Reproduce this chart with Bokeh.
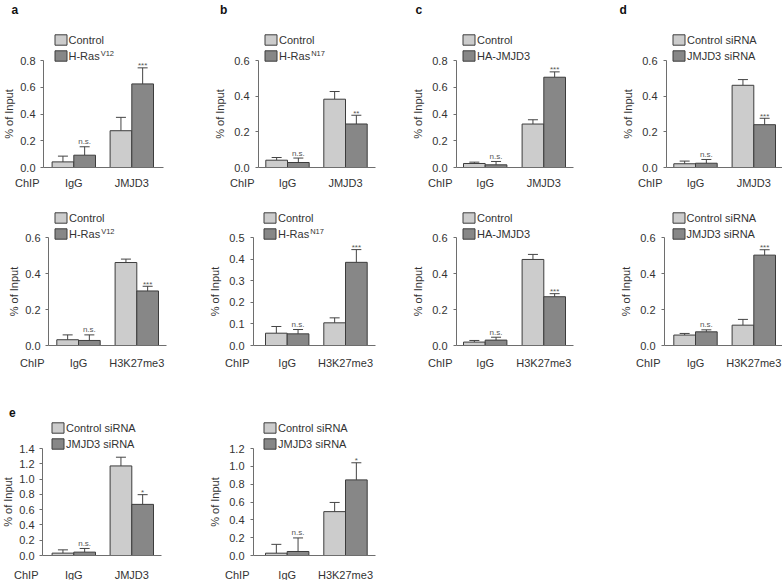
from bokeh.plotting import figure
from bokeh.layouts import column, row
from bokeh.models import (Range1d, FixedTicker, PrintfTickFormatter, Legend,
                          LegendItem, Label, ColumnDataSource)
from bokeh.embed import file_html
from bokeh.resources import INLINE
from bokeh.core.properties import value

FONT = "Liberation Sans"
TXT = "#333333"
AX = "#6e6e6e"
LIGHT = "#cccccc"
DARK = "#878787"
EDGE = "#3c3c3c"

# ---------------- data ----------------
cats_jmjd3 = ["IgG", "JMJD3"]
cats_h3k = ["IgG", "H3K27me3"]

series_ras = ["Control", "H-Ras"]
series_ha = ["Control", "HA-JMJD3"]
series_si = ["Control siRNA", "JMJD3 siRNA"]
sup_v12 = "V12"
sup_n17 = "N17"

# a (top): H-Ras V12, ChIP JMJD3
a1_ctrl = [0.042, 0.275]
a1_ctrl_err = [0.043, 0.100]
a1_trt = [0.092, 0.625]
a1_trt_err = [0.063, 0.120]
a1_sig = ["n.s.", "***"]
a1_yticks = [0.0, 0.2, 0.4, 0.6, 0.8]

# a (bottom): H-Ras V12, ChIP H3K27me3
a2_ctrl = [0.032, 0.461]
a2_ctrl_err = [0.027, 0.019]
a2_trt = [0.028, 0.303]
a2_trt_err = [0.031, 0.026]
a2_sig = ["n.s.", "***"]
a2_yticks = [0.0, 0.2, 0.4, 0.6]

# b (top): H-Ras N17, ChIP JMJD3
b1_ctrl = [0.041, 0.383]
b1_ctrl_err = [0.015, 0.043]
b1_trt = [0.028, 0.244]
b1_trt_err = [0.025, 0.049]
b1_sig = ["n.s.", "**"]
b1_yticks = [0.0, 0.2, 0.4, 0.6]

# b (bottom): H-Ras N17, ChIP H3K27me3
b2_ctrl = [0.057, 0.105]
b2_ctrl_err = [0.031, 0.023]
b2_trt = [0.054, 0.385]
b2_trt_err = [0.020, 0.059]
b2_sig = ["n.s.", "***"]
b2_yticks = [0.0, 0.1, 0.2, 0.3, 0.4, 0.5]

# c (top): HA-JMJD3, ChIP JMJD3
c1_ctrl = [0.030, 0.325]
c1_ctrl_err = [0.010, 0.032]
c1_trt = [0.020, 0.675]
c1_trt_err = [0.025, 0.040]
c1_sig = ["n.s.", "***"]
c1_yticks = [0.0, 0.2, 0.4, 0.6, 0.8]

# c (bottom): HA-JMJD3, ChIP H3K27me3
c2_ctrl = [0.019, 0.478]
c2_ctrl_err = [0.009, 0.028]
c2_trt = [0.030, 0.271]
c2_trt_err = [0.016, 0.017]
c2_sig = ["n.s.", "***"]
c2_yticks = [0.0, 0.2, 0.4, 0.6]

# d (top): siRNA, ChIP JMJD3
d1_ctrl = [0.021, 0.461]
d1_ctrl_err = [0.015, 0.032]
d1_trt = [0.024, 0.240]
d1_trt_err = [0.021, 0.036]
d1_sig = ["n.s.", "***"]
d1_yticks = [0.0, 0.2, 0.4, 0.6]

# d (bottom): siRNA, ChIP H3K27me3
d2_ctrl = [0.058, 0.113]
d2_ctrl_err = [0.009, 0.032]
d2_trt = [0.076, 0.502]
d2_trt_err = [0.011, 0.030]
d2_sig = ["n.s.", "***"]
d2_yticks = [0.0, 0.2, 0.4, 0.6]

# e (left): siRNA, ChIP JMJD3
e1_ctrl = [0.031, 1.172]
e1_ctrl_err = [0.043, 0.114]
e1_trt = [0.044, 0.669]
e1_trt_err = [0.048, 0.127]
e1_sig = ["n.s.", "*"]
e1_yticks = [0.0, 0.2, 0.4, 0.6, 0.8, 1.0, 1.2, 1.4]

# e (right): siRNA, ChIP H3K27me3
e2_ctrl = [0.026, 0.492]
e2_ctrl_err = [0.099, 0.103]
e2_trt = [0.045, 0.848]
e2_trt_err = [0.152, 0.192]
e2_sig = ["n.s.", "*"]
e2_yticks = [0.0, 0.2, 0.4, 0.6, 0.8, 1.0, 1.2]

# ---------------- layout geometry (pixels) ----------------
ROW1 = dict(fh=194, zero=167, axis_px=107, std=9, letter_base=9.5)
ROW2 = dict(fh=186, zero=151, axis_px=108, std=11, letter_base=0)
ROW3 = dict(fh=200, zero=175, axis_px=107, std=13, letter_base=31.7)
BAR_PX = 21.7


def text_width(s, size):
    w = {"H": .722, "-": .333, "R": .722, "a": .556, "s": .5}
    return sum(w.get(ch, .556) for ch in s) * size


def panel(rg, fw, axis, c1, c2, end, leg_dx, letter, letter_dx,
          cats, series, sup, ctrl, ctrl_err, trt, trt_err, sig, yticks,
          tight=False):
    fh, zero, axis_px = rg["fh"], rg["zero"], rg["axis_px"]
    ppu = c2 - c1
    ymax = yticks[-1]
    upp = ymax / axis_px
    xs, xe = -c1 / ppu, (fw - c1) / ppu
    ys, ye = -(fh - zero) * upp, zero * upp
    x_axis = (axis - c1) / ppu
    x_end = (end - c1) / ppu

    p = figure(width=fw, height=fh, output_backend="svg",
               toolbar_location=None, tools="",
               x_range=Range1d(xs, xe), y_range=Range1d(ys, ye),
               min_border=0)
    p.min_border_left = 0
    p.min_border_right = 0
    p.min_border_top = 0
    p.min_border_bottom = 0
    p.outline_line_color = None
    p.xgrid.visible = False
    p.ygrid.visible = False
    p.background_fill_color = "white"
    p.border_fill_color = "white"

    bw = BAR_PX / ppu
    idx = list(range(len(cats)))
    src = ColumnDataSource(dict(
        xc=[i - bw / 2 for i in idx], xt=[i + bw / 2 for i in idx],
        vc=ctrl, vt=trt,
        hc=[v + e for v, e in zip(ctrl, ctrl_err)],
        ht=[v + e for v, e in zip(trt, trt_err)],
        sig=sig,
        yoff=[-2 if s.startswith("*") else -5 for s in sig]))

    for xk, vk, hk in (("xc", "vc", "hc"), ("xt", "vt", "ht")):
        p.segment(x0=xk, y0=vk, x1=xk, y1=hk, source=src,
                  line_color="#444444", line_width=1)
        p.scatter(x=xk, y=hk, source=src, marker="dash", size=10,
                  line_color="#444444", line_width=1)

    rc = p.vbar(x="xc", top="vc", width=bw, bottom=0, source=src,
                fill_color=LIGHT, line_color=EDGE, line_width=1)
    rt = p.vbar(x="xt", top="vt", width=bw, bottom=0, source=src,
                fill_color=DARK, line_color=EDGE, line_width=1)

    p.text(x="xt", y="ht", text="sig", source=src, text_align="center",
           text_baseline="alphabetic", y_offset="yoff", text_font_size="8px",
           text_font=value(FONT), text_color="#555555")

    ya = p.yaxis[0]
    ya.fixed_location = x_axis
    ya.ticker = FixedTicker(ticks=yticks)
    ya.formatter = PrintfTickFormatter(format="%.1f")
    ya.bounds = (0, ymax)
    ya.major_tick_out = 3
    ya.major_tick_in = 0
    ya.minor_tick_out = 0
    ya.minor_tick_in = 0
    ya.major_label_standoff = 5 if tight else 6
    ya.axis_label = "% of Input"
    ya.axis_label_standoff = 2 if tight else 5
    ya.axis_label_text_font_style = "normal"
    ya.axis_label_text_font = FONT
    ya.axis_label_text_font_size = "11px"
    ya.axis_label_text_color = TXT
    ya.major_label_text_font = FONT
    ya.major_label_text_font_size = "11px"
    ya.major_label_text_color = TXT
    ya.axis_line_color = AX
    ya.major_tick_line_color = AX

    xa = p.xaxis[0]
    xa.fixed_location = 0
    xa.bounds = (x_axis, x_end)
    xa.ticker = FixedTicker(ticks=idx)
    xa.major_label_overrides = {i: c for i, c in zip(idx, cats)}
    xa.major_tick_out = 0
    xa.major_tick_in = 0
    xa.minor_tick_out = 0
    xa.minor_tick_in = 0
    xa.major_label_standoff = rg["std"]
    xa.major_label_text_font = FONT
    xa.major_label_text_font_size = "11px"
    xa.major_label_text_color = TXT
    xa.axis_line_color = AX

    def sy(px_from_top):
        return fh - px_from_top

    p.add_layout(Label(x=axis - 4, y=sy(zero + rg["std"]), x_units="screen",
                       y_units="screen", text="ChIP", text_align="right",
                       text_baseline="top", text_font=FONT,
                       text_font_size="11px", text_color=TXT))

    leg_x = axis + leg_dx
    leg_y = sy(zero) + 105
    leg = Legend(items=[LegendItem(label=series[0], renderers=[rc]),
                        LegendItem(label=series[1], renderers=[rt])],
                 location=(leg_x, leg_y), orientation="vertical",
                 glyph_width=15, glyph_height=13, label_height=13,
                 label_standoff=1, spacing=3, padding=0, margin=0,
                 border_line_color=None, background_fill_alpha=0,
                 label_text_font=FONT, label_text_font_size="11px",
                 label_text_color=TXT)
    p.add_layout(leg)
    if sup:
        p.add_layout(Label(x=leg_x + 16 + text_width(series[1], 11) + 0.5,
                           y=leg_y + 9, x_units="screen", y_units="screen",
                           text=sup, text_baseline="middle",
                           text_font=FONT, text_font_size="7.5px",
                           text_color=TXT))
    if letter:
        p.add_layout(Label(x=axis + letter_dx, y=sy(rg["letter_base"]),
                           x_units="screen", y_units="screen", text=letter,
                           text_baseline="alphabetic", text_font=FONT,
                           text_font_style="bold", text_font_size="12px",
                           text_color="#111111"))
    return p


pa1 = panel(ROW1, 198, 43, 73.3, 131.3, 163, 9.5, "a", -32,
            cats_jmjd3, series_ras, sup_v12, a1_ctrl, a1_ctrl_err, a1_trt, a1_trt_err, a1_sig, a1_yticks,
            tight=True)
pb1 = panel(ROW1, 190, 60, 89, 147, 177, 5, "b", -38.5,
            cats_jmjd3, series_ras, sup_n17, b1_ctrl, b1_ctrl_err, b1_trt, b1_trt_err, b1_sig, b1_yticks)
pc1 = panel(ROW1, 195, 68, 96.7, 155.3, 185, 5, "c", -41,
            cats_jmjd3, series_ha, None, c1_ctrl, c1_ctrl_err, c1_trt, c1_trt_err, c1_sig, c1_yticks)
pd1 = panel(ROW1, 199, 83, 112, 170.3, 199, 5, "d", -47,
            cats_jmjd3, series_si, None, d1_ctrl, d1_ctrl_err, d1_trt, d1_trt_err, d1_sig, d1_yticks)

pa2 = panel(ROW2, 198, 48, 78, 136.3, 166, 5, None, 0,
            cats_h3k, series_ras, sup_v12, a2_ctrl, a2_ctrl_err, a2_trt, a2_trt_err, a2_sig, a2_yticks,
            tight=True)
pb2 = panel(ROW2, 190, 55, 88.7, 147, 177, 9, None, 0,
            cats_h3k, series_ras, sup_n17, b2_ctrl, b2_ctrl_err, b2_trt, b2_trt_err, b2_sig, b2_yticks)
pc2 = panel(ROW2, 195, 68, 96.7, 155.3, 185, 5, None, 0,
            cats_h3k, series_ha, None, c2_ctrl, c2_ctrl_err, c2_trt, c2_trt_err, c2_sig, c2_yticks)
pd2 = panel(ROW2, 199, 81, 112, 170.3, 199, 6.5, None, 0,
            cats_h3k, series_si, None, d2_ctrl, d2_ctrl_err, d2_trt, d2_trt_err, d2_sig, d2_yticks)

pe1 = panel(ROW3, 198, 42, 73.3, 131.3, 161, 8, "e", -33.5,
            cats_jmjd3, series_si, None, e1_ctrl, e1_ctrl_err, e1_trt, e1_trt_err, e1_sig, e1_yticks,
            tight=True)
pe2 = panel(ROW3, 190, 55, 88.7, 147, 177, 9, None, 0,
            cats_h3k, series_si, None, e2_ctrl, e2_ctrl_err, e2_trt, e2_trt_err, e2_sig, e2_yticks)

layout = column(row(pa1, pb1, pc1, pd1), row(pa2, pb2, pc2, pd2), row(pe1, pe2))

open("out.html", "w").write(file_html(layout, INLINE))
